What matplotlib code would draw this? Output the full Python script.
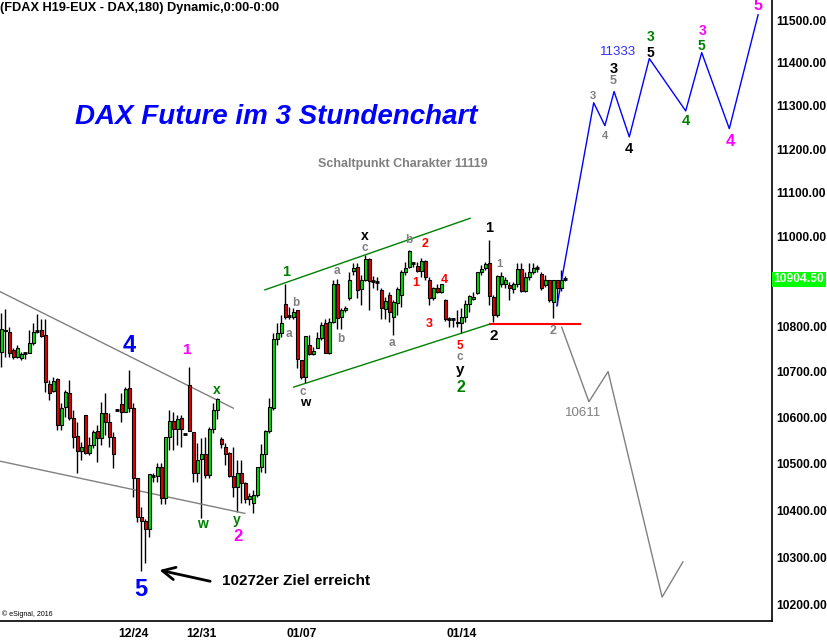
import numpy as np
import matplotlib
matplotlib.use("Agg")
import matplotlib.pyplot as plt

plt.rcParams['font.family'] = ['Liberation Sans', 'DejaVu Sans']

# ---------------- OHLC data (3h bars, FDAX H19) ----------------
opens = [10744, 10790, 10788, 10748, 10733, 10730, 10740, 10741, 10764, 10789,
         10792, 10781, 10673, 10658, 10684, 10584, 10623, 10653, 10599, 10560,
         10527, 10605, 10523, 10540, 10570, 10555, 10610, 10590, 10557, 10616,
         10629, 10612, 10664, 10621, 10469, 10386, 10377, 10360, 10474, 10473,
         10493, 10426, 10557, 10592, 10575, 10599, 10564, 10671, 10568, 10480,
         10510, 10520, 10476, 10575, 10616, 10553, 10536, 10523, 10473, 10450,
         10480, 10458, 10424, 10416, 10433, 10493, 10520, 10570, 10621, 10772,
         10786, 10850, 10822, 10821, 10835, 10726, 10689, 10759, 10739, 10752,
         10775, 10808, 10741, 10810, 10895, 10821, 10835, 10863, 10924, 10933,
         10884, 10904, 10951, 10901, 10898, 10881, 10839, 10870, 10821, 10852,
         10870, 10922, 10933, 10942, 10935, 10924, 10946, 10904, 10863, 10886,
         10877, 10859, 10817, 10815, 10810, 10808, 10821, 10850, 10861, 10875,
         10920, 10931, 10942, 10866, 10826, 10895, 10895, 10891, 10884, 10893,
         10928, 10879, 10909, 10920, 10929, 10917, 10891, 10902, 10855, 10902,
         10886, 10904.5]
highs = [10830, 10839, 10799, 10752, 10759, 10744, 10741, 10792, 10808, 10828,
         10815, 10815, 10682, 10689, 10686, 10631, 10660, 10682, 10616, 10590,
         10546, 10605, 10557, 10573, 10584, 10634, 10653, 10610, 10568, 10618,
         10653, 10667, 10704, 10631, 10469, 10407, 10381, 10478, 10480, 10501,
         10501, 10557, 10616, 10612, 10605, 10605, 10566, 10711, 10568, 10544,
         10555, 10557, 10579, 10631, 10642, 10557, 10544, 10525, 10536, 10508,
         10508, 10461, 10437, 10443, 10493, 10542, 10573, 10642, 10786, 10808,
         10826, 10893, 10843, 10841, 10837, 10726, 10779, 10781, 10755, 10788,
         10810, 10815, 10819, 10904, 10906, 10841, 10846, 10922, 10942, 10942,
         10915, 10960, 10953, 10911, 10909, 10886, 10866, 10877, 10859, 10888,
         10926, 10944, 10971, 10944, 10944, 10953, 10949, 10909, 10888, 10893,
         10895, 10861, 10821, 10819, 10837, 10841, 10859, 10870, 10877, 10922,
         10937, 10944, 10994, 10870, 10915, 10922, 10909, 10898, 10898, 10942,
         10942, 10920, 10942, 10942, 10937, 10920, 10915, 10904, 10904, 10904,
         10926, 10911]
lows = [10711, 10733, 10733, 10728, 10730, 10726, 10728, 10741, 10759, 10786,
        10777, 10656, 10638, 10656, 10573, 10573, 10601, 10594, 10533, 10480,
        10508, 10520, 10518, 10533, 10503, 10540, 10562, 10536, 10490, 10614,
        10590, 10612, 10612, 10428, 10375, 10271, 10288, 10343, 10461, 10461,
        10413, 10413, 10529, 10529, 10540, 10536, 10562, 10570, 10461, 10461,
        10384, 10469, 10469, 10566, 10597, 10533, 10497, 10471, 10428, 10396,
        10416, 10416, 10411, 10394, 10428, 10482, 10480, 10566, 10616, 10759,
        10777, 10815, 10815, 10815, 10708, 10684, 10675, 10737, 10737, 10752,
        10770, 10741, 10739, 10808, 10795, 10795, 10832, 10859, 10915, 10863,
        10848, 10900, 10837, 10886, 10881, 10815, 10815, 10810, 10781, 10826,
        10843, 10915, 10931, 10933, 10920, 10909, 10904, 10848, 10859, 10875,
        10875, 10812, 10799, 10799, 10799, 10786, 10810, 10832, 10859, 10872,
        10915, 10926, 10848, 10810, 10821, 10888, 10886, 10859, 10875, 10888,
        10877, 10877, 10904, 10917, 10922, 10881, 10888, 10855, 10819, 10848,
        10879, 10900]
closes = [10795, 10792, 10741, 10733, 10752, 10739, 10740, 10764, 10788, 10789,
          10779, 10678, 10653, 10680, 10584, 10621, 10656, 10599, 10557, 10527,
          10536, 10523, 10540, 10568, 10555, 10610, 10590, 10557, 10520, 10616,
          10612, 10662, 10621, 10469, 10386, 10377, 10360, 10478, 10474, 10493,
          10426, 10557, 10592, 10575, 10597, 10575, 10564, 10570, 10480, 10508,
          10520, 10476, 10575, 10616, 10640, 10542, 10520, 10473, 10450, 10480,
          10458, 10424, 10431, 10433, 10493, 10520, 10570, 10623, 10772, 10786,
          10808, 10821, 10822, 10832, 10728, 10689, 10779, 10739, 10746, 10775,
          10803, 10741, 10810, 10895, 10819, 10835, 10841, 10904, 10931, 10881,
          10904, 10951, 10900, 10901, 10898, 10841, 10857, 10832, 10855, 10884,
          10922, 10931, 10967, 10942, 10924, 10946, 10909, 10863, 10886, 10877,
          10893, 10815, 10817, 10815, 10808, 10821, 10850, 10868, 10866, 10920,
          10928, 10940, 10868, 10826, 10911, 10911, 10902, 10886, 10893, 10928,
          10879, 10909, 10920, 10931, 10929, 10886, 10902, 10859, 10902, 10886,
          10904, 10904.5]

date_pos = [33, 50, 75, 115]
date_labels = ['12/24', '12/31', '01/07', '01/14']
price_ticks = [10200, 10300, 10400, 10500, 10600, 10700, 10800,
               11000, 11100, 11200, 11300, 11400, 11500]
last_price = 10904.5

# Elliott projections (bar index, price)
bull_x = [138.9, 148.1, 150.9, 153.2, 157.0, 162.0, 171.1, 175.1, 182.0, 189.2]
bull_y = [10845, 11307, 11254, 11333, 11228, 11410, 11288, 11424, 11247, 11513]
bear_x = [140.1, 146.9, 151.7, 165.2, 170.4]
bear_y = [10798, 10634, 10700, 10216, 10290]

# trend / channel lines (bar index, price)
tl_upper_x, tl_upper_y = [-0.3, 58.0], [10877, 10620]
tl_lower_x, tl_lower_y = [-0.3, 60.9], [10505, 10393]
ch_upper_x, ch_upper_y = [65.9, 117.2], [10881, 11042]
ch_lower_x, ch_lower_y = [73.1, 122.2], [10666, 10805]
pivot_x, pivot_y = [122.2, 144.7], [10805, 10805]

# wave labels: text, bar index, price, colour, size
GREY = '#808080'; MAG = '#FF00FF'; GRN = '#008000'; RED = '#FF0000'; BLU = '#0000FF'
labels = [
    ('4', 31.9, 10757, BLU, 17), ('5', 34.9, 10231, BLU, 17),
    ('1', 46.4, 10748, MAG, 11), ('x', 53.9, 10660, GRN, 10),
    ('w', 50.2, 10371, GRN, 10), ('y', 58.9, 10379, GRN, 10),
    ('2', 59.2, 10343, MAG, 12),
    ('1', 71.2, 10921, GRN, 10.5), ('b', 73.7, 10852, GREY, 8.5),
    ('a', 71.9, 10783, GREY, 8.5), ('c', 75.4, 10655, GREY, 8.5),
    ('w', 75.9, 10631, 'black', 9.5),
    ('a', 83.9, 10923, GREY, 8.5), ('b', 84.9, 10772, GREY, 8.5),
    ('x', 90.9, 11002, 'black', 10), ('c', 90.9, 10975, GREY, 8.5),
    ('a', 97.7, 10763, GREY, 8.5), ('b', 101.9, 10993, GREY, 8.5),
    ('2', 105.9, 10984, RED, 9), ('1', 103.7, 10897, RED, 9),
    ('4', 110.7, 10903, RED, 9), ('3', 106.9, 10805, RED, 9),
    ('5', 114.7, 10757, RED, 8.5), ('c', 114.7, 10732, GREY, 8.5),
    ('y', 114.7, 10704, 'black', 11), ('2', 114.9, 10664, GRN, 11.5),
    ('1', 121.9, 11020, 'black', 10.5), ('1', 124.4, 10939, GREY, 8),
    ('2', 123.2, 10779, 'black', 11), ('2', 137.9, 10790, GREY, 9),
    ('3', 147.9, 11323, GREY, 8), ('4', 150.9, 11229, GREY, 8),
    ('3', 153.0, 11385, 'black', 10.5), ('5', 153.0, 11358, GREY, 9),
    ('4', 157.0, 11200, 'black', 10.5),
    ('3', 162.2, 11461, GRN, 10), ('5', 162.2, 11424, 'black', 10),
    ('4', 171.1, 11265, GRN, 10.5),
    ('3', 175.3, 11475, MAG, 10), ('5', 175.1, 11440, GRN, 10),
    ('4', 182.2, 11217, MAG, 12), ('5', 189.2, 11534, MAG, 11.5),
]

# ---------------- figure ----------------
W, H = 828, 643
fig = plt.figure(figsize=(W / 100, H / 100), dpi=100)
fig.patch.set_facecolor('white')
ax = fig.add_axes([0, 22 / H, 772 / W, 621 / H])
ax.set_yscale('log')
ax.set_xlim(-0.325, 192.675)
ax.set_ylim(10166, 11548)

o = np.array(opens, float); h = np.array(highs, float)
l = np.array(lows, float); c = np.array(closes, float)
idx = np.arange(len(o))
ax.vlines(idx, l, h, color='black', lw=1.0, zorder=2)
up = c > o
dn = c < o
dj = c == o
ax.bar(idx[up], (c - o)[up], bottom=o[up], width=0.8, color='#00DD00',
       edgecolor='black', linewidth=0.8, zorder=3)
ax.bar(idx[dn], (c - o)[dn], bottom=o[dn], width=0.8, color='#E00000',
       edgecolor='black', linewidth=0.8, zorder=3)
ax.hlines(o[dj], idx[dj] - 0.45, idx[dj] + 0.45, color='black', lw=2, zorder=3)

# lines
ax.plot(tl_upper_x, tl_upper_y, color=GREY, lw=1)
ax.plot(tl_lower_x, tl_lower_y, color=GREY, lw=1)
ax.plot(ch_upper_x, ch_upper_y, color=GRN, lw=1)
ax.plot(ch_lower_x, ch_lower_y, color=GRN, lw=1)
ax.plot(pivot_x, pivot_y, color=RED, lw=1.5)
ax.plot(bull_x, bull_y, color=BLU, lw=1)
ax.plot(bear_x, bear_y, color=GREY, lw=1)

for t, x, y, col, s in labels:
    ax.text(x, y, t, color=col, fontsize=s, fontweight='bold',
            ha='center', va='center', zorder=5)

ax.text(154.1, 11425, '11333', color='#3030FF', fontsize=9.5,
        ha='center', va='center')
ax.text(145.4, 10610, '10611', color=GREY, fontsize=9.5,
        ha='center', va='center')

ax.annotate('', xy=(38.85, 10274), xytext=(52.9, 10248),
            arrowprops=dict(arrowstyle='->,head_length=0.9,head_width=0.45',
                            color='black', lw=2))
ax.text(55.2, 10250, '10272er Ziel erreicht', fontsize=11, fontweight='bold',
        ha='left', va='center', color='black')

ax.text(75 / 772, 1 - 117 / 621, 'DAX Future im 3 Stundenchart', transform=ax.transAxes,
        fontsize=20, fontweight='bold', style='italic', color='#0000FF',
        ha='left', va='center')
ax.text(318 / 772, 1 - 164 / 621, 'Schaltpunkt Charakter 11119', transform=ax.transAxes,
        fontsize=9, fontweight='bold', color=GREY, ha='left', va='center')
ax.text(0.0, 1 - 8 / 621, '(FDAX H19-EUX - DAX,180) Dynamic,0:00-0:00',
        transform=ax.transAxes, fontsize=9.2, fontweight='bold', ha='left',
        va='center')
ax.text(2 / 772, 1 - 614 / 621, '\u00a9 eSignal, 2016', transform=ax.transAxes,
        fontsize=5, ha='left', va='center')

# axes styling
for s in ['top', 'left']:
    ax.spines[s].set_visible(False)
ax.spines['right'].set_linewidth(1.2)
ax.spines['bottom'].set_linewidth(1.2)
ax.yaxis.tick_right()
ax.set_yticks(price_ticks)
ax.set_yticklabels([f'{v:.2f}' for v in price_ticks], fontsize=8.7, fontweight='bold')
ax.yaxis.set_minor_locator(matplotlib.ticker.NullLocator())
ax.tick_params(axis='y', length=0, pad=3)
ax.set_xticks(date_pos)
ax.set_xticklabels(date_labels, fontsize=8.7, fontweight='bold')
ax.tick_params(axis='x', length=0, pad=5)

ax.text(1.002, last_price, f'{last_price:.2f}', transform=ax.get_yaxis_transform(),
        color='white', fontsize=8.7, fontweight='bold', ha='left', va='center',
        bbox=dict(boxstyle='square,pad=0.1', facecolor='#00FF00', edgecolor='none'))

fig.savefig('out.png', dpi=100, facecolor='white')
